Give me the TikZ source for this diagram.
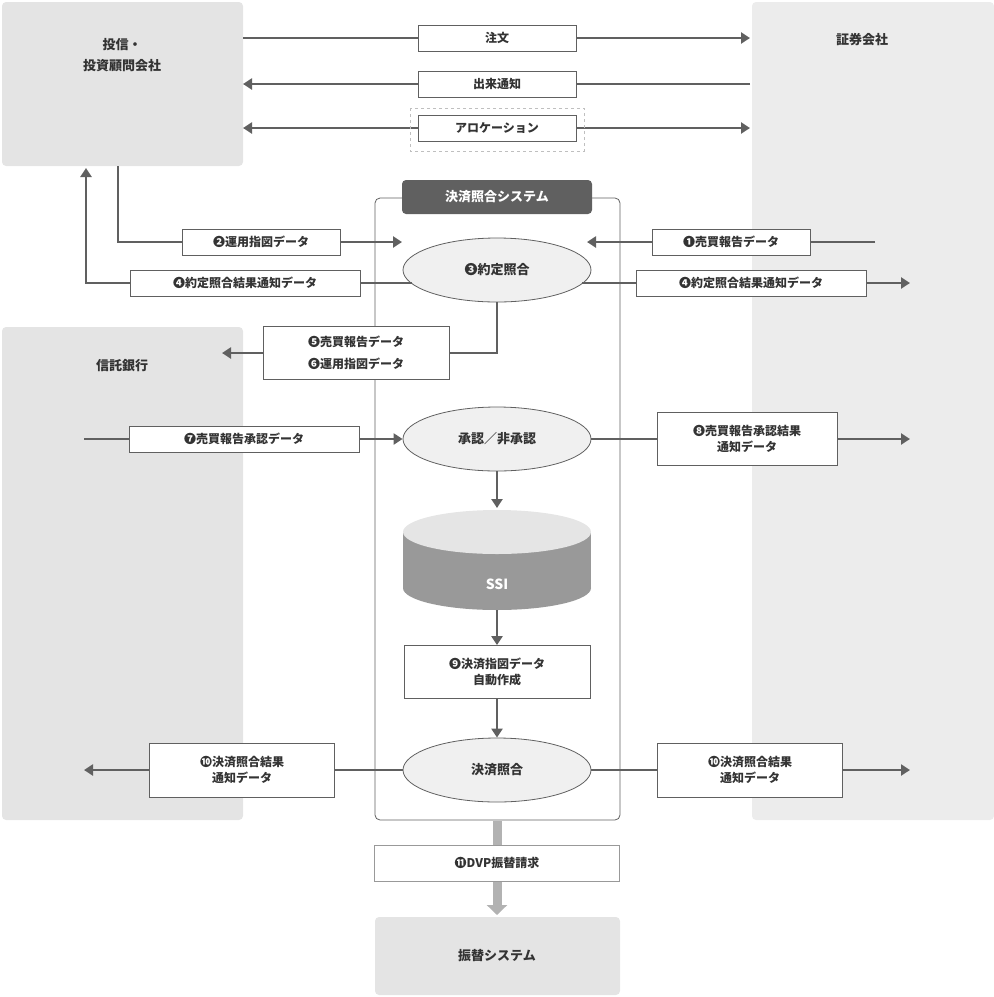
\documentclass[tikz,border=0pt]{standalone}
\usepackage{fontspec}
\setmainfont{Noto Sans CJK JP}
\usetikzlibrary{positioning,shapes,arrows.meta,fit}
\definecolor{ln}{HTML}{606060}
\definecolor{panel}{HTML}{E4E4E4}
\definecolor{panelb}{HTML}{ECECEC}
\tikzset{
  lbl/.style={draw=ln, fill=white, line width=0.8pt, font=\bfseries\fontsize{12}{16}\selectfont, text=black!80, align=center, inner sep=0pt},
  flow/.style={draw=ln, line width=2.6pt, -{Triangle[length=9pt,width=11pt]}},
  match/.style={ellipse, draw=ln, fill=black!6, line width=0.8pt, minimum width=188pt, minimum height=64pt, font=\bfseries\fontsize{13}{16}\selectfont, text=black!80}
}
\begin{document}
\begin{tikzpicture}[x=1pt,y=-1pt]
\useasboundingbox (0,0) rectangle (994,997);
% parties
\fill[panelb, rounded corners=4pt] (752,2) rectangle (994,820);
\fill[panel, rounded corners=4pt] (2,2) rectangle (243,166);
\fill[panel, rounded corners=4pt] (2,327) rectangle (243,820);
\fill[panel, rounded corners=4pt] (375,917) rectangle (620,995);
\node[font=\bfseries\fontsize{13}{21}\selectfont, align=center, text=black!80] (toushin) at (122,55) {投信・\\投資顧問会社};
\node[font=\bfseries\fontsize{13}{16}\selectfont, text=black!80] (shoken) at (862,40) {証券会社};
\node[font=\bfseries\fontsize{13}{16}\selectfont, text=black!80] (shintaku) at (122,366) {信託銀行};
\node[font=\bfseries\fontsize{13}{16}\selectfont, text=black!80] (furikae) at (497,956) {振替システム};
% system frame
\draw[ln, line width=0.8pt, rounded corners=5pt] (375,198) rectangle (620,820);
\node[fill=ln, text=white, rounded corners=4pt, minimum width=190pt, minimum height=34pt, font=\bfseries\fontsize{13}{16}\selectfont] (sys) at (497,197) {決済照合システム};
% top flows
\coordinate (tl1) at (243,38); \coordinate (tr1) at (750,38);
\coordinate (tl2) at (243,84); \coordinate (tr2) at (750,84);
\coordinate (tl3) at (243,128); \coordinate (tr3) at (750,128);
\draw[flow] (tl1) -- (tr1);
\draw[flow] (tr2) -- (tl2);
\draw[flow, {Triangle[length=9pt,width=11pt]}-{Triangle[length=9pt,width=11pt]}] (tl3) -- (tr3);
\draw[black!25, dashed, line width=0.6pt] (410,108) rectangle (584,151);
\node[lbl, minimum width=158pt, minimum height=26pt] (chumon) at (497,38) {注文};
\node[lbl, minimum width=158pt, minimum height=26pt] (deki) at (497,84) {出来通知};
\node[lbl, minimum width=158pt, minimum height=26pt] (alloc) at (497,128) {アロケーション};
% matching steps
\node[match] (yakujo) at (497,270) {❸約定照合};
\node[match] (shonin) at (497,439) {承認／非承認};
\node[match] (kessai) at (497,770) {決済照合};
% SSI
\fill[black!40] (403,532) rectangle (591,588);
\fill[black!40] (497,588) ellipse [x radius=94, y radius=22];
\fill[black!10] (497,532) ellipse [x radius=94, y radius=22];
\node[text=white, font=\bfseries\fontsize{14}{16}\selectfont] (ssi) at (497,584) {SSI};
\node[lbl, minimum width=186pt, minimum height=53pt] (shizu) at (497,672) {❾決済指図データ\\自動作成};
\draw[flow] (shonin) -- (497,508);
\draw[flow] (497,610) -- (shizu);
\draw[flow] (shizu) -- (kessai);
% flows around yakujo
\coordinate (in1) at (875,242);
\draw[flow] (118,166) |- (402,242);
\draw[flow] (in1) -- (587,242);
\draw[flow] (412,283) -| (86,168);
\draw[flow] (582,283) -- (910,283);
\draw[flow] (yakujo.south) |- (222,353);
\node[lbl, minimum width=158pt, minimum height=26pt] at (261,242) {❷運用指図データ};
\node[lbl, minimum width=158pt, minimum height=26pt] at (731,242) {❶売買報告データ};
\node[lbl, minimum width=230pt, minimum height=26pt] at (245,283) {❹約定照合結果通知データ};
\node[lbl, minimum width=230pt, minimum height=26pt] at (751,283) {❹約定照合結果通知データ};
\node[lbl, minimum width=186pt, minimum height=53pt, font=\bfseries\fontsize{12}{22}\selectfont] at (356,353) {❺売買報告データ\\❻運用指図データ};
% flows around shonin
\draw[flow] (84,439) -- (shonin);
\draw[flow] (shonin) -- (910,439);
\node[lbl, minimum width=230pt, minimum height=26pt] at (244,439) {❼売買報告承認データ};
\node[lbl, minimum width=180pt, minimum height=53pt] at (747,439) {❽売買報告承認結果\\通知データ};
% flows around kessai
\draw[flow] (kessai) -- (84,770);
\draw[flow] (kessai) -- (910,770);
\node[lbl, minimum width=185pt, minimum height=54pt] at (242,770) {❿決済照合結果\\通知データ};
\node[lbl, minimum width=185pt, minimum height=54pt] at (750,770) {❿決済照合結果\\通知データ};
% DVP
\draw[black!30, line width=9pt, -{Triangle[length=10pt,width=20pt]}] (497,821) -- (furikae.north |- 0,915);
\node[lbl, draw=black!40, minimum width=245pt, minimum height=36pt] (dvp) at (497,863) {⓫DVP振替請求};
\end{tikzpicture}
\end{document}
